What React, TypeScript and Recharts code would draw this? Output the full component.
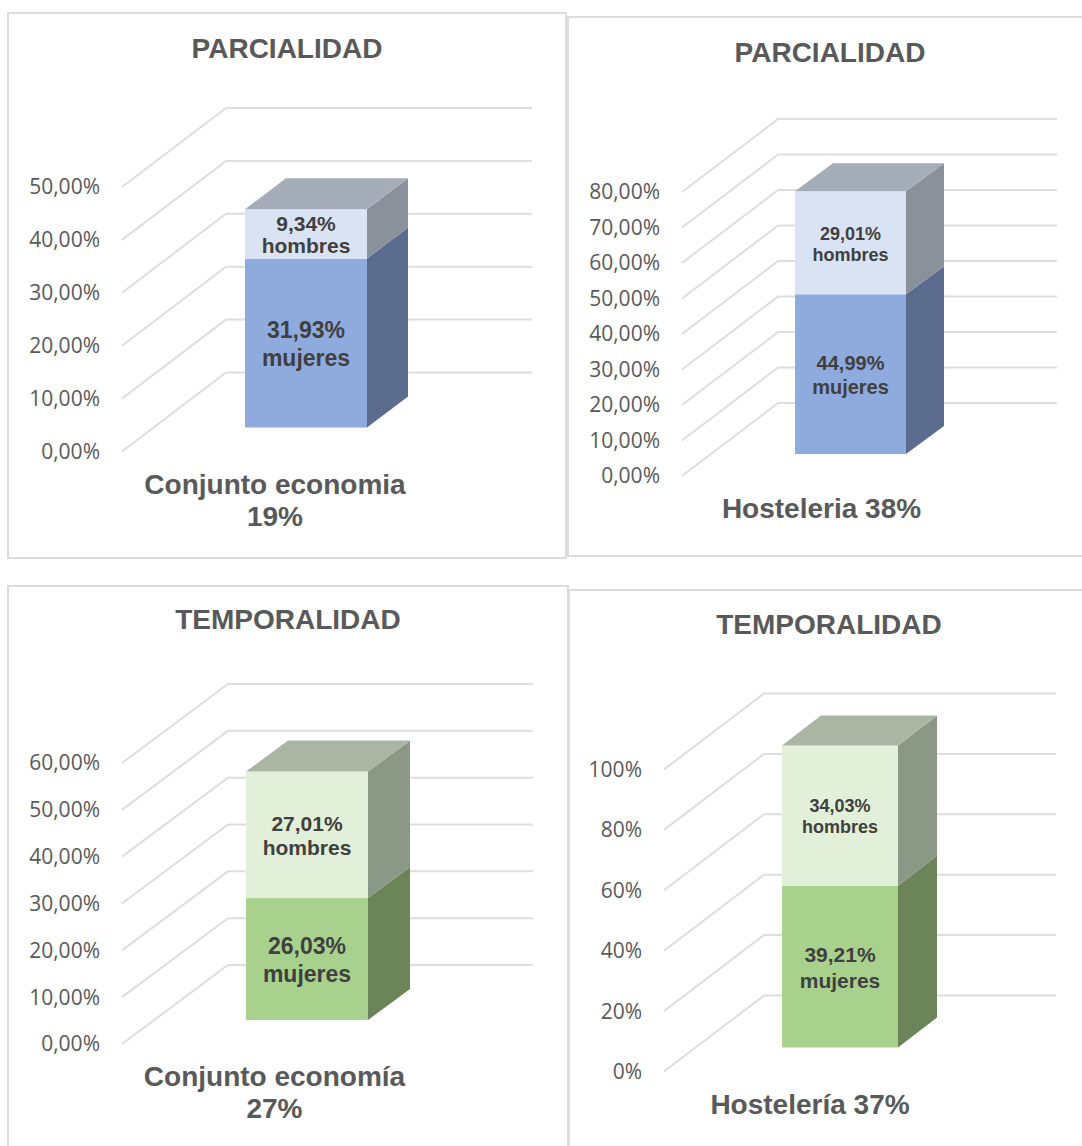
import { Bar, BarChart, CartesianGrid, XAxis, YAxis } from "recharts"

const titles = ["PARCIALIDAD", "PARCIALIDAD", "TEMPORALIDAD", "TEMPORALIDAD"]
const categories = ["Conjunto economia\n19%", "Hosteleria 38%", "Conjunto economía\n27%", "Hostelería 37%"]
const mujeres = [31.93, 44.99, 26.03, 39.21]
const hombres = [9.34, 29.01, 27.01, 34.03]
const percentTicks = [0, 10, 20, 30, 40, 50]
const hosteleriaTicks = [0, 10, 20, 30, 40, 50, 60, 70, 80]
const temporalTicks = [0, 10, 20, 30, 40, 50, 60]
const shareTicks = [0, 0.2, 0.4, 0.6, 0.8, 1]

const SANS = "'Liberation Sans', Arial, sans-serif"
const TICK_FONT = "'Open Sans', sans-serif"

const blue = { low: "#8FAADC", lowSide: "#5B6C8E", high: "#DAE3F3", highSide: "#8B919B", top: "#A5ADB9" }
const green = { low: "#A9D18E", lowSide: "#6B8559", high: "#E2F0D9", highSide: "#8C9886", top: "#AAB5A4" }

// pixel layout of each panel
const panels = [
  { box: [7, 12, 560, 547], plot: [122, 428, 187, 451.5], wall: [104, 79], barW: 122, barOff: [31, 24], depth: [41, 31], colors: blue, ticks: percentTicks, top: 50, titleAt: [287, 59], fontLow: 23, fontHigh: 21, lineHigh: 22.5, tickMargin: 22 },
  { box: [567, 16, 530, 541], plot: [682, 961, 192, 476], wall: [96, 73], barW: 111, barOff: [29, 22], depth: [38, 28], colors: blue, ticks: hosteleriaTicks, top: 80, titleAt: [830, 63], fontLow: 20, fontHigh: 18, lineHigh: 21, tickMargin: 22 },
  { box: [7, 585, 562, 570], plot: [122, 427, 763, 1044], wall: [106, 79], barW: 122, barOff: [32, 24], depth: [42, 31], colors: green, ticks: temporalTicks, top: 60, titleAt: [288, 630], fontLow: 23, fontHigh: 21, lineHigh: 24, tickMargin: 22 },
  { box: [568, 589, 530, 566], plot: [664, 956, 769.5, 1071.5], wall: [100, 76], barW: 116, barOff: [30, 24], depth: [39, 30], colors: green, ticks: shareTicks, top: 1, titleAt: [829, 635], fontLow: 21, fontHigh: 18, lineHigh: 21, tickMargin: 22 },
]

const comma = (v: number) => v.toFixed(2).replace(".", ",") + "%"

function Face({ props, panel, kind }: any) {
  const { x, y, width, height, payload } = props
  const [ox, oy] = panel.barOff
  const [dx, dy] = panel.depth
  const c = panel.colors
  const left = x + ox
  const right = left + width
  const top = y - oy
  const bottom = top + height
  const isLow = kind === "mujeres"
  const fs = isLow ? panel.fontLow : panel.fontHigh
  const lh = isLow ? fs * 1.2 : panel.lineHigh
  const cy = (top + bottom) / 2
  const first = cy + fs * 0.35 - lh / 2 + 1
  return (
    <g>
      <rect x={left} y={top} width={width} height={height} fill={isLow ? c.low : c.high} />
      <polygon
        points={`${right},${top} ${right + dx},${top - dy} ${right + dx},${bottom - dy} ${right},${bottom}`}
        fill={isLow ? c.lowSide : c.highSide}
      />
      {!isLow && (
        <polygon points={`${left},${top} ${left + dx},${top - dy} ${right + dx},${top - dy} ${right},${top}`} fill={c.top} />
      )}
      <text x={(left + right) / 2} textAnchor="middle" fontFamily={SANS} fontWeight="bold" fontSize={fs} fill="#404040">
        <tspan x={(left + right) / 2} y={first}>{comma(payload[kind])}</tspan>
        <tspan x={(left + right) / 2} y={first + lh}>{kind}</tspan>
      </text>
    </g>
  )
}

function CategoryTick({ x, y, payload }: any) {
  const lines = String(payload.value).split("\n")
  return (
    <text textAnchor="middle" fontFamily={SANS} fontWeight="bold" fontSize={28} fill="#595959">
      {lines.map((line, i) => (
        <tspan key={i} x={x} y={y + 42 + i * 32}>{line}</tspan>
      ))}
    </text>
  )
}

function Panel({ index }: { index: number }) {
  const panel = panels[index]
  const [bx, by, bw, bh] = panel.box
  const [x0, x1, yTop, yBottom] = panel.plot
  const [wx, wy] = panel.wall
  const data = [{ name: categories[index], mujeres: mujeres[index], hombres: hombres[index] }]
  const isShare = panel.top === 1
  const yAxisWidth = 90
  const gridLine = (p: any) => (
    <polyline
      key={p.key}
      points={`${p.x1},${p.y1} ${p.x1 + wx},${p.y1 - wy} ${p.x2 + wx},${p.y1 - wy}`}
      fill="none"
      stroke="#DEDEDE"
      strokeWidth={2}
    />
  )
  return (
    <>
      <div style={{ position: "absolute", left: bx, top: by, width: bw, height: bh, border: "2px solid #DCDCDC", boxSizing: "border-box" }} />
      <div
        style={{
          position: "absolute",
          left: panel.titleAt[0] - 200,
          width: 400,
          top: panel.titleAt[1] - 28 * 0.8465,
          textAlign: "center",
          fontFamily: SANS,
          fontWeight: "bold",
          fontSize: 28,
          lineHeight: 1,
          color: "#595959",
        }}
      >
        {titles[index]}
      </div>
      <div style={{ position: "absolute", left: bx, top: by }}>
        <BarChart
          width={bw}
          height={bh}
          data={data}
          stackOffset={isShare ? "expand" : "none"}
          barSize={panel.barW}
          margin={{
            left: x0 - bx - yAxisWidth,
            right: bx + bw - x1,
            top: yTop - by,
            bottom: by + bh - yBottom - 70,
          }}
        >
          <CartesianGrid vertical={false} horizontal={gridLine} />
          <XAxis dataKey="name" axisLine={false} tickLine={false} height={70} interval={0} tick={<CategoryTick />} tickSize={0} tickMargin={0} />
          <YAxis
            width={yAxisWidth}
            domain={[0, panel.top]}
            ticks={panel.ticks}
            interval={0}
            axisLine={false}
            tickLine={false}
            tickSize={0}
            tickMargin={panel.tickMargin}
            tick={{ fontFamily: TICK_FONT, fontSize: 21, fill: "#595959" }}
            tickFormatter={(v: number) => (isShare ? `${Math.round(v * 100)}%` : comma(v))}
          />
          <Bar dataKey="mujeres" stackId="a" isAnimationActive={false} shape={(p: any) => <Face props={p} panel={panel} kind="mujeres" />} />
          <Bar dataKey="hombres" stackId="a" isAnimationActive={false} shape={(p: any) => <Face props={p} panel={panel} kind="hombres" />} />
        </BarChart>
      </div>
    </>
  )
}

export default function App() {
  return (
    <div style={{ position: "absolute", left: 0, top: 0, width: 1082, height: 1146, overflow: "hidden", background: "#fff" }}>
      {panels.map((_, i) => (
        <Panel key={i} index={i} />
      ))}
    </div>
  )
}
